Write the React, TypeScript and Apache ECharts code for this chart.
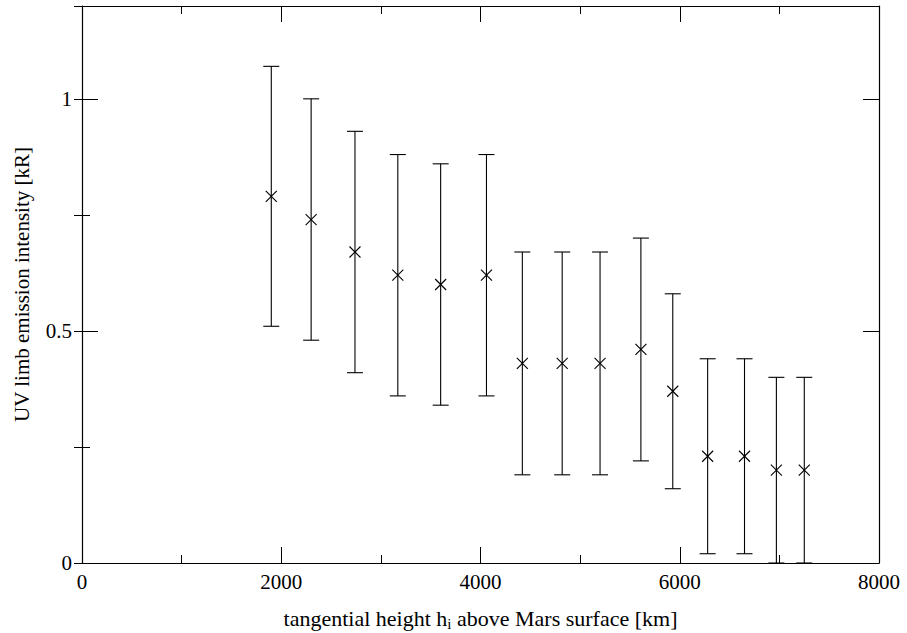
import React, { useEffect, useRef } from "react";
import * as echarts from "echarts";

const heights = [1900, 2300, 2740, 3170, 3600, 4060, 4420, 4820, 5200, 5610, 5930, 6280, 6650, 6970, 7250];
const intensity = [0.79, 0.74, 0.67, 0.62, 0.6, 0.62, 0.43, 0.43, 0.43, 0.46, 0.37, 0.23, 0.23, 0.2, 0.2];
const upperErr = [1.07, 1.0, 0.93, 0.88, 0.86, 0.88, 0.67, 0.67, 0.67, 0.7, 0.58, 0.44, 0.44, 0.4, 0.4];
const lowerErr = [0.51, 0.48, 0.41, 0.36, 0.34, 0.36, 0.19, 0.19, 0.19, 0.22, 0.16, 0.02, 0.02, 0.0, 0.0];

const FONT = "Liberation Serif";

export default function App() {
  const ref = useRef<HTMLDivElement>(null);
  useEffect(() => {
    if (!ref.current) return;
    const chart = echarts.init(ref.current, null, { renderer: "svg" });
    const data = heights.map((h, i) => [h, intensity[i], lowerErr[i], upperErr[i]]);
    const line = { color: "#000", width: 1.2 };
    const xCommon = {
      type: "value",
      min: 0,
      max: 8000,
      interval: 2000,
      axisLine: { show: true, onZero: false, lineStyle: line },
      axisTick: { show: true, inside: true, length: 16, lineStyle: { color: "#000", width: 1 } },
      minorTick: { show: true, splitNumber: 2, length: 8, lineStyle: { color: "#000", width: 1 } },
      splitLine: { show: false },
      minorSplitLine: { show: false },
    };
    const yMajor = {
      type: "value",
      min: 0,
      max: 1.2,
      interval: 0.5,
      axisLine: { show: true, onZero: false, lineStyle: line },
      axisTick: { show: true, inside: true, length: 16, lineStyle: { color: "#000", width: 1 } },
      splitLine: { show: false },
    };
    const yMinor = {
      type: "value",
      min: 0,
      max: 1.2,
      interval: 0.25,
      axisLine: { show: false },
      axisTick: { show: true, inside: true, length: 8, lineStyle: { color: "#000", width: 1 } },
      axisLabel: { show: false },
      splitLine: { show: false },
    };
    chart.setOption({
      animation: false,
      backgroundColor: "#fff",
      textStyle: { fontFamily: FONT, color: "#000" },
      grid: { left: 82, right: 28, top: 6, bottom: 70, containLabel: false, outerBoundsMode: "none" },
      xAxis: [
        {
          ...xCommon,
          position: "bottom",
          axisLabel: {
            show: true,
            fontFamily: FONT,
            fontSize: 21,
            color: "#000",
            margin: 8,
            formatter: (v: number) => String(v),
          },
          name: "{a|tangential height h}{s|i}{a| above Mars surface [km]}",
          nameLocation: "middle",
          nameGap: 42,
          nameTextStyle: {
            fontFamily: FONT,
            color: "#000",
            rich: {
              a: { fontFamily: FONT, fontSize: 22, color: "#000", lineHeight: 26 },
              s: { fontFamily: FONT, fontSize: 15, color: "#000", lineHeight: 14, verticalAlign: "bottom" },
            },
          },
        },
        { ...xCommon, position: "top", axisLabel: { show: false } },
      ],
      yAxis: [
        {
          ...yMajor,
          position: "left",
          axisLabel: {
            show: true,
            fontFamily: FONT,
            fontSize: 21,
            color: "#000",
            margin: 10,
            formatter: (v: number) => (v > 1.1 ? "" : String(v)),
          },
          name: "UV limb emission intensity [kR]",
          nameLocation: "middle",
          nameGap: 50,
          nameTextStyle: { fontFamily: FONT, fontSize: 21, color: "#000" },
        },
        { ...yMinor, position: "left" },
        { ...yMajor, position: "right", axisLabel: { show: false } },
        { ...yMinor, position: "right" },
      ],
      series: [
        {
          type: "custom",
          xAxisIndex: 0,
          yAxisIndex: 0,
          encode: { x: 0, y: [1, 2, 3] },
          data,
          renderItem: (params: any, api: any) => {
            const x = api.value(0);
            const y = api.value(1);
            const lo = api.value(2);
            const hi = api.value(3);
            const pt = api.coord([x, hi]);
            const pb = api.coord([x, lo]);
            const p = api.coord([x, y]);
            const cap = 8;
            const m = 5.5;
            const style = { stroke: "#000", lineWidth: 1.1, fill: "none" };
            return {
              type: "group",
              children: [
                { type: "line", shape: { x1: pt[0], y1: pt[1], x2: pb[0], y2: pb[1] }, style },
                { type: "line", shape: { x1: pt[0] - cap, y1: pt[1], x2: pt[0] + cap, y2: pt[1] }, style },
                { type: "line", shape: { x1: pb[0] - cap, y1: pb[1], x2: pb[0] + cap, y2: pb[1] }, style },
                { type: "line", shape: { x1: p[0] - m, y1: p[1] - m, x2: p[0] + m, y2: p[1] + m }, style },
                { type: "line", shape: { x1: p[0] - m, y1: p[1] + m, x2: p[0] + m, y2: p[1] - m }, style },
              ],
            };
          },
        },
      ],
    });
    return () => chart.dispose();
  }, []);
  return (
    <div
      ref={ref}
      style={{ position: "fixed", left: 0, top: 0, width: 907, height: 633, background: "#fff" }}
    />
  );
}
